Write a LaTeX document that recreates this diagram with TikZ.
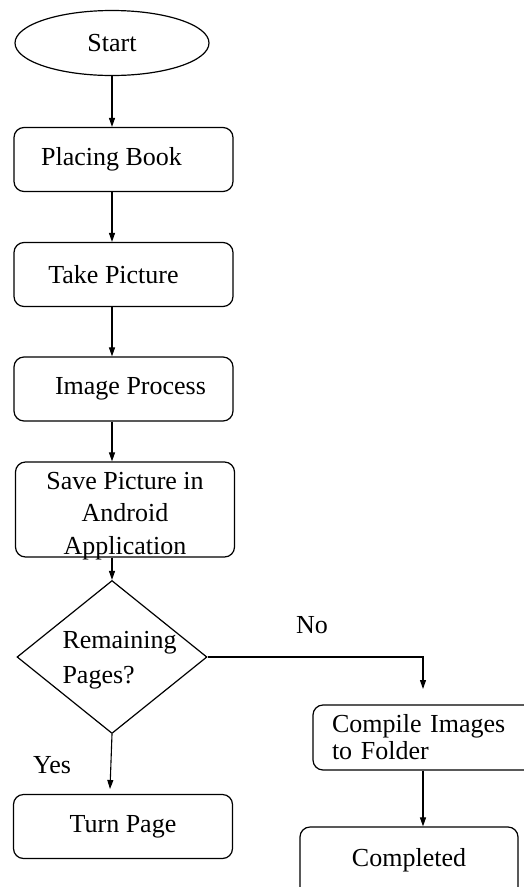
\documentclass[tikz,border=0pt]{standalone}
\usepackage{fontspec}
\setmainfont{Liberation Serif}
\usetikzlibrary{shapes.geometric,arrows.meta,positioning}

\begin{document}
\begin{tikzpicture}[x=1pt,y=-1pt,
  every node/.style={font=\fontsize{26}{32}\selectfont},
  box/.style ={draw, rounded corners=10pt, line width=1.2pt, inner sep=0pt,
               minimum width=219pt, minimum height=64pt},
  term/.style={draw, ellipse, line width=1.2pt, inner sep=0pt,
               minimum width=194pt, minimum height=65pt},
  dec/.style ={draw, diamond, line width=1.2pt, inner sep=0pt,
               minimum width=190pt, minimum height=153pt},
  arr/.style ={-{Triangle[length=9pt,width=6pt]}, line width=1.1pt}
]
\useasboundingbox (0,0) rectangle (524,887);

%% main column
\node[term] (start) at (112,43)    {Start};
\node[box]  (place) at (123.5,159.5) {Placing Book\hspace*{24pt}};
\node[box]  (take)  at (123.5,274.5) {Take Picture\hspace*{20pt}};
\node[box]  (img)   at (123.5,389)   {\hspace*{14pt}Image Process};
\node[box, minimum height=95pt] (save) at (125,509.5) {};
\node[align=center, font=\fontsize{26}{32.5}\selectfont] (saveTxt) at (125,516)
  {Save Picture in\\Android\\Application};
\node[dec]  (chk)   at (112,657) {};
\node[align=left, anchor=west, font=\fontsize{26}{35}\selectfont] (chkTxt) at (59,660)
  {Remaining\\Pages?};
\node[box]  (turn)  at (123,826.5) {Turn Page};

%% right branch
\node[box, minimum width=222pt, minimum height=65pt, align=left, text width=184pt,
      font=\fontsize{26}{27}\selectfont] (comp) at (424,737.5) {Compile Images\\to Folder};
\node[box, minimum width=218pt, minimum height=80pt] (done) at (409,867) {};
\node (doneTxt) at (409,860) {Completed};

%% labels
\node (yes) at (52,765) {Yes};
\node (no)  at (312,625) {No};

%% arrows
\coordinate (noEnd)  at (423,689);
\coordinate (yesEnd) at (110,789);
\draw[arr] (start.south) -- (place.north -| start.south);
\draw[arr] (place.south -| start.south) -- (take.north -| start.south);
\draw[arr] (take.south -| start.south) -- (img.north -| start.south);
\draw[arr] (img.south -| start.south) -- (save.north -| start.south);
\draw[arr] (save.south -| chk.north) -- (chk.north);
\draw[arr] (chk.south) -- (yesEnd);
\draw[arr] (chk.east) -| (noEnd);
\draw[arr] (comp.south -| noEnd) -- (done.north -| noEnd);
\end{tikzpicture}
\end{document}
